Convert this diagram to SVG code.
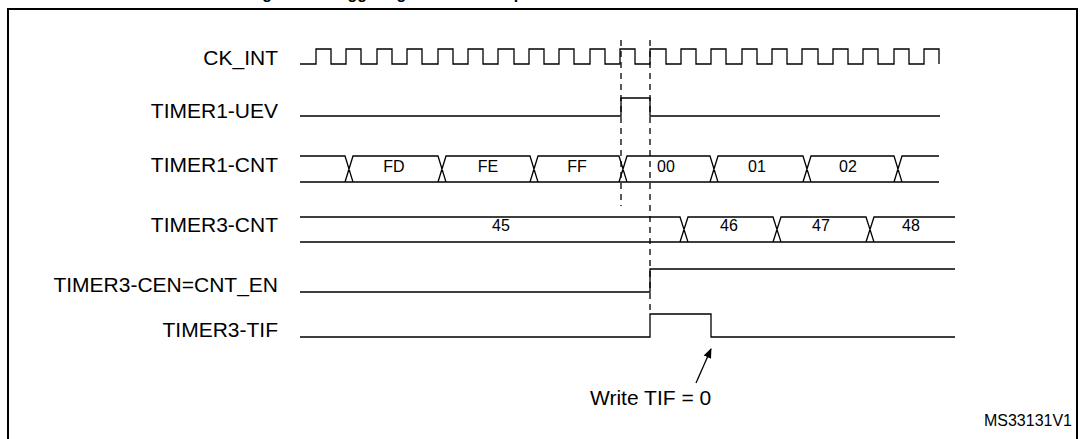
<svg xmlns="http://www.w3.org/2000/svg" width="1085" height="439" viewBox="0 0 1085 439">
<style>
.lbl{font-family:"Liberation Sans",Arial,sans-serif;font-size:21px;fill:#000;text-anchor:end}
.bus{font-family:"Liberation Sans",Arial,sans-serif;font-size:16px;fill:#000;text-anchor:middle}
.w{fill:none;stroke:#000;stroke-width:1.3}
.d{fill:none;stroke:#000;stroke-width:1.3;stroke-dasharray:6,5}
</style>
<defs><marker id="ah" markerWidth="10" markerHeight="10" refX="9" refY="5" orient="auto" markerUnits="userSpaceOnUse"><path d="M0,1 L10,5 L0,9 z" fill="#000"/></marker></defs>
<text x="248" y="-1" font-family="Liberation Sans,Arial,sans-serif" font-size="16" font-weight="bold">Figure 80. Triggering timer 3 with update of timer 1</text>
<rect x="8" y="9" width="1069" height="440" fill="none" stroke="#000" stroke-width="2"/>
<g id="ck_int"><text class="lbl" x="278" y="65">CK_INT</text>
<path class="w" d="M300,64 H316 V49 H331 V64 H346 V49 H361 V64 H377 V49 H392 V64 H407 V49 H422 V64 H438 V49 H453 V64 H468 V49 H483 V64 H498 V49 H514 V64 H529 V49 H544 V64 H559 V49 H574 V64 H590 V49 H605 V64 H620 V49 H635 V64 H650 V49 H666 V64 H681 V49 H696 V64 H711 V49 H726 V64 H742 V49 H757 V64 H772 V49 H787 V64 H802 V49 H818 V64 H833 V49 H848 V64 H863 V49 H878 V64 H894 V49 H909 V64 H924 V49 H939 V64"/></g>
<g id="timer1_uev"><text class="lbl" x="278" y="118">TIMER1-UEV</text>
<path class="w" d="M300,116 H621 V98 H650 V116 H940"/></g>
<g id="timer1_cnt"><text class="lbl" x="278" y="172">TIMER1-CNT</text>
<path class="w" d="M300,156 H345 L353,182 H300 M345,182 L353,156 H438 L446,182 H353 M438,182 L446,156 H530 L538,182 H446 M530,182 L538,156 H619 L627,182 H538 M619,182 L627,156 H710 L718,182 H627 M710,182 L718,156 H803 L811,182 H718 M803,182 L811,156 H894 L902,182 H811 M894,182 L902,156 H939 M902,182 H939"/>
<text class="bus" x="394" y="172">FD</text><text class="bus" x="488" y="172">FE</text><text class="bus" x="577" y="172">FF</text><text class="bus" x="666" y="172">00</text><text class="bus" x="757" y="172">01</text><text class="bus" x="848" y="172">02</text></g>
<g id="timer3_cnt"><text class="lbl" x="278" y="232">TIMER3-CNT</text>
<path class="w" d="M300,217 H680 L688,242 H300 M680,242 L688,217 H773 L781,242 H688 M773,242 L781,217 H866 L874,242 H781 M866,242 L874,217 H955 M874,242 H955"/>
<text class="bus" x="501" y="231">45</text><text class="bus" x="729" y="231">46</text><text class="bus" x="821" y="231">47</text><text class="bus" x="911" y="231">48</text></g>
<g id="timer3_cen"><text class="lbl" x="278" y="292">TIMER3-CEN=CNT_EN</text>
<path class="w" d="M300,292 H650 V269 H955"/></g>
<g id="timer3_tif"><text class="lbl" x="278" y="337">TIMER3-TIF</text>
<path class="w" d="M300,337 H650 V314 H711 V337 H955"/></g>
<g id="connectors">
<line class="d" x1="621" y1="40" x2="621" y2="206"/>
<line class="d" x1="650" y1="40" x2="650" y2="314"/>
<line class="w" x1="696" y1="383" x2="711" y2="349" marker-end="url(#ah)"/>
</g>
<text x="590" y="405" font-family="Liberation Sans,Arial,sans-serif" font-size="21">Write TIF = 0</text>
<text x="1072" y="426" text-anchor="end" font-family="Liberation Sans,Arial,sans-serif" font-size="16">MS33131V1</text>
</svg>
